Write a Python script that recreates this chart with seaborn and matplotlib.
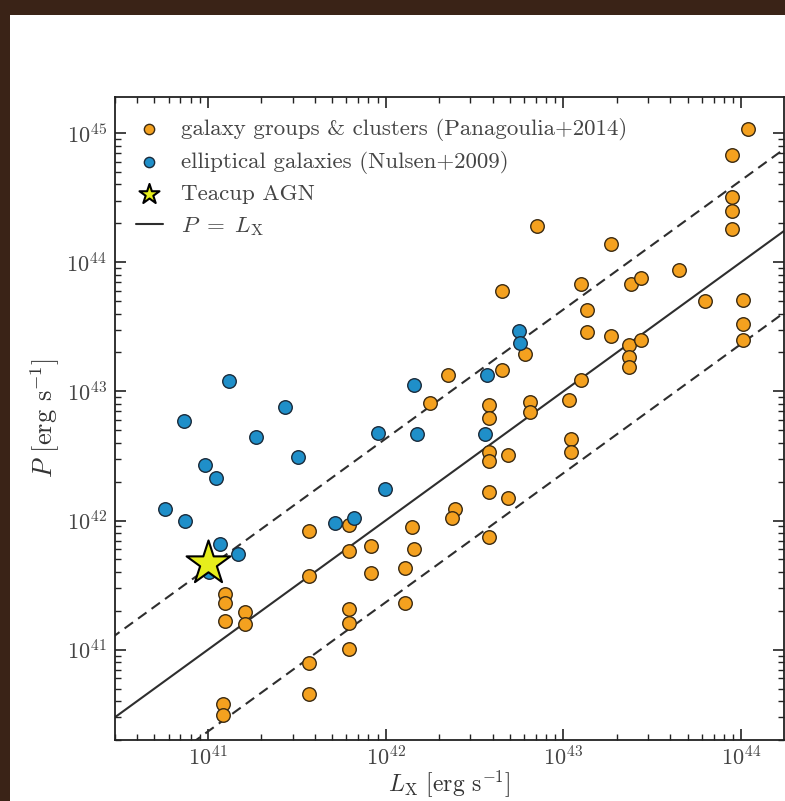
import matplotlib
matplotlib.use("Agg")
from matplotlib import pyplot as plt
from matplotlib.patches import Rectangle
from matplotlib.ticker import LogLocator
import numpy as np
import pandas as pd
import seaborn as sns

# galaxy groups & clusters (Panagoulia+2014), L_X and P in erg/s
groups_lx = [1.1e44, 8.9e43, 8.9e43, 8.9e43, 8.9e43, 7.1e42, 1.86e43, 4.45e43, 1.26e43, 2.4e43,
             2.75e43, 4.5e42, 6.3e43, 1.02e44, 1.35e43, 1.02e44, 1.02e44, 1.35e43, 1.86e43, 2.35e43,
             2.75e43, 2.35e43, 2.35e43, 6.1e42, 4.5e42, 2.25e42, 1.78e42, 3.8e42, 3.8e42, 6.5e42,
             6.5e42, 1.07e43, 1.26e43, 3.8e42, 3.8e42, 4.9e42, 1.1e43, 1.1e43, 3.8e42, 4.9e42,
             2.45e42, 2.35e42, 3.8e42, 1.41e42, 1.44e42, 1.29e42, 1.29e42, 6.2e41, 6.2e41, 8.3e41,
             8.3e41, 6.2e41, 6.2e41, 6.2e41, 3.7e41, 3.7e41, 3.7e41, 3.7e41, 1.25e41, 1.25e41,
             1.25e41, 1.61e41, 1.61e41, 1.21e41, 1.21e41]
groups_p = [1.07e45, 6.7e44, 3.2e44, 2.5e44, 1.8e44, 1.9e44, 1.38e44, 8.7e43, 6.8e43, 6.8e43,
            7.6e43, 6.0e43, 5.0e43, 5.1e43, 4.3e43, 3.3e43, 2.5e43, 2.9e43, 2.7e43, 2.3e43,
            2.5e43, 1.86e43, 1.55e43, 1.95e43, 1.45e43, 1.35e43, 8.1e42, 7.8e42, 6.2e42, 8.3e42,
            6.9e42, 8.5e42, 1.23e43, 3.4e42, 2.9e42, 3.2e42, 4.3e42, 3.4e42, 1.67e42, 1.5e42,
            1.23e42, 1.04e42, 7.4e41, 8.9e41, 6.0e41, 4.3e41, 2.3e41, 9.2e41, 5.8e41, 6.3e41,
            3.9e41, 2.05e41, 1.62e41, 1.02e41, 8.3e41, 3.7e41, 7.9e40, 4.5e40, 2.7e41, 2.3e41,
            1.67e41, 1.95e41, 1.58e41, 3.8e40, 3.1e40]

# elliptical galaxies (Nulsen+2009)
ellip_lx = [5.7e40, 7.4e40, 7.3e40, 9.6e40, 1.11e41, 1.31e41, 1.17e41, 1.47e41, 1.86e41, 2.7e41,
            3.2e41, 5.2e41, 6.6e41, 9.1e41, 9.9e41, 1.45e42, 1.51e42, 3.6e42, 3.7e42, 5.6e42,
            5.7e42, 1.01e41]
ellip_p = [1.23e42, 1.0e42, 5.9e42, 2.7e42, 2.15e42, 1.2e43, 6.6e41, 5.5e41, 4.4e42, 7.6e42,
           3.1e42, 9.6e41, 1.05e42, 4.8e42, 1.74e42, 1.12e43, 4.7e42, 4.7e42, 1.35e43, 2.95e43,
           2.35e43, 4.0e41]

# Teacup AGN
teacup_lx = [1.0e41]
teacup_p = [4.7e41]

# one-to-one relation and its scatter band
line_lx = np.array([1e40, 1e45])
band_factor = 4.3

sns.set_style("ticks")
plt.rcParams["font.family"] = ["cmr10", "DejaVu Serif"]
plt.rcParams["mathtext.fontset"] = "cm"
plt.rcParams["axes.formatter.use_mathtext"] = True
plt.rcParams["axes.unicode_minus"] = False

fig = plt.figure(figsize = (7.85, 8.01), dpi = 100, facecolor = "#3a2317")
fig.add_artist(Rectangle((10 / 785, 0), 1, (801 - 15) / 801, transform = fig.transFigure,
                         facecolor = "white", edgecolor = "none", zorder = 0))
ax = fig.add_axes([0.1465, 0.0762, 0.852, 0.8027])
ax.set_facecolor("white")

line_col = "#2e2e2e"
ax.plot(line_lx, line_lx, color = line_col, lw = 1.5, zorder = 1, label = r"$P\ =\ L_{\rm X}$")
ax.plot(line_lx, line_lx * band_factor, color = line_col, lw = 1.5, ls = (0, (5, 3)), zorder = 1)
ax.plot(line_lx, line_lx / band_factor, color = line_col, lw = 1.5, ls = (0, (5, 3)), zorder = 1)

groups = pd.DataFrame({"lx": groups_lx, "p": groups_p})
ellip = pd.DataFrame({"lx": ellip_lx, "p": ellip_p})
teacup = pd.DataFrame({"lx": teacup_lx, "p": teacup_p})

sns.scatterplot(data = groups, x = "lx", y = "p", ax = ax, color = "#f4a11f", s = 95,
                edgecolor = "#3a2a12", linewidth = 1.0, zorder = 3,
                label = "galaxy groups & clusters (Panagoulia+2014)")
sns.scatterplot(data = ellip, x = "lx", y = "p", ax = ax, color = "#1f8fc9", s = 95,
                edgecolor = "#1a2a3a", linewidth = 1.0, zorder = 3,
                label = "elliptical galaxies (Nulsen+2009)")
sns.scatterplot(data = teacup, x = "lx", y = "p", ax = ax, color = "#e6ee1c", s = 1100, marker = "*",
                edgecolor = "black", linewidth = 1.5, zorder = 4, label = "Teacup AGN")

ax.set_xscale("log")
ax.set_yscale("log")
ax.set_xlim(3.0e40, 1.74e44)
ax.set_ylim(2.0e40, 1.9e45)
ax.xaxis.set_major_locator(LogLocator(base = 10))
ax.yaxis.set_major_locator(LogLocator(base = 10))
ax.xaxis.set_minor_locator(LogLocator(base = 10, subs = np.arange(2, 10)))
ax.yaxis.set_minor_locator(LogLocator(base = 10, subs = np.arange(2, 10)))

ax.set_xlabel(r"$L_{\rm X}$ [erg s$^{-1}$]", fontsize = 17, color = "#333333", labelpad = -1)
ax.set_ylabel(r"$P$ [erg s$^{-1}$]", fontsize = 19, color = "#333333", labelpad = 3)
ax.tick_params(which = "both", direction = "in", top = True, right = True, colors = "#222222",
               labelcolor = "#444444", labelsize = 16)
ax.tick_params(which = "major", length = 8, width = 1.2, pad = 6)
ax.tick_params(which = "minor", length = 4.5, width = 1.0)
ax.tick_params(axis = "x", which = "major", pad = 4)
for spine in ax.spines.values():
    spine.set_linewidth(1.3)
    spine.set_color("#222222")

handles, labels = ax.get_legend_handles_labels()
order = [1, 2, 3, 0]
leg = ax.legend([handles[i] for i in order], [labels[i] for i in order], loc = "upper left",
                frameon = False, fontsize = 16.5, labelspacing = 0.45, handletextpad = 0.8,
                borderaxespad = 0.5, borderpad = 0.4, handlelength = 1.2)
for text in leg.get_texts():
    text.set_color("#444444")
leg.legend_handles[0].set_sizes([55])
leg.legend_handles[1].set_sizes([55])
leg.legend_handles[2].set_sizes([230])

fig.savefig("out.png", dpi = 100, facecolor = fig.get_facecolor())
